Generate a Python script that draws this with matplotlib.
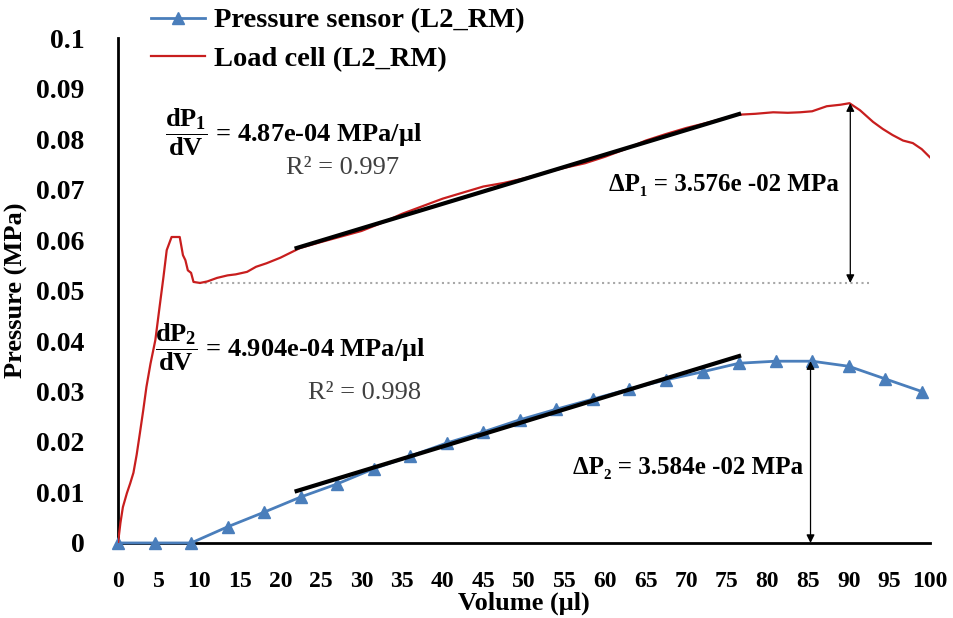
import numpy as np
import matplotlib.pyplot as plt

plt.rcParams['font.family'] = ['Liberation Serif', 'DejaVu Serif']
plt.rcParams['font.weight'] = 'bold'
plt.rcParams['mathtext.fontset'] = 'custom'
plt.rcParams['mathtext.rm'] = 'Liberation Serif:bold'
plt.rcParams['mathtext.bf'] = 'Liberation Serif:bold'
plt.rcParams['mathtext.it'] = 'Liberation Serif:bold'

# pressure sensor (blue, markers)
vol_sensor = [0, 4.5, 9, 13.5, 18, 22.5, 27, 31.5, 36, 40.5, 45, 49.5, 54, 58.5,
              63, 67.5, 72, 76.5, 81, 85.5, 90, 94.5, 99]
p_sensor = [0, 0, 0, 0.0032, 0.0061, 0.0091, 0.0117, 0.0147, 0.0172, 0.0198, 0.0220,
            0.0244, 0.0265, 0.0285, 0.0305, 0.0323, 0.0339, 0.0356, 0.0360, 0.0360,
            0.0350, 0.0325, 0.0300]

# load cell (red)
vol_load = [0, 0.3, 0.6, 1.1, 1.5, 1.9, 2.3, 2.7, 3.1, 3.5, 4.0, 4.6, 5.1, 5.6, 6.0,
            6.6, 7.6, 8.0, 8.3, 8.6, 9.0, 9.3, 10.1, 11.0, 12.2, 13.5, 14.5, 15.9,
            17.0, 18.3, 20.0, 22.4, 25, 27.5, 30, 32.5, 35, 37.5, 40, 42.5, 45, 47.5,
            50, 52.5, 55, 57.5, 60, 62.5, 65, 67.5, 70, 73, 76.2, 78.5, 80.7, 82.5,
            84, 85.5, 87.3, 89, 90.1, 91.4, 93, 94.2, 95.4, 96.7, 97.9, 99, 100]
p_load = [0, 0.0040, 0.0071, 0.0099, 0.0118, 0.0139, 0.0175, 0.0218, 0.0262, 0.0309,
          0.0355, 0.0402, 0.0465, 0.0527, 0.0580, 0.0606, 0.0606, 0.0570, 0.0560,
          0.0540, 0.0535, 0.0517, 0.0515, 0.0518, 0.0525, 0.0530, 0.0532, 0.0537,
          0.0547, 0.0554, 0.0565, 0.0584, 0.0596, 0.0607, 0.0618, 0.0634, 0.0652,
          0.0667, 0.0682, 0.0694, 0.0706, 0.0713, 0.0722, 0.0733, 0.0743, 0.0752,
          0.0765, 0.0780, 0.0797, 0.0810, 0.0822, 0.0834, 0.0848, 0.0850, 0.0853,
          0.0852, 0.0853, 0.0855, 0.0865, 0.0868, 0.0871, 0.0857, 0.0834, 0.0820,
          0.0808, 0.0797, 0.0792, 0.0780, 0.0764]

# linear fits
fit_x = [22, 76.5]
slope1, icpt1 = 4.87e-4, 0.0477
slope2, icpt2 = 4.904e-4, -0.0005

base1 = 0.0515
peak1_x, peak1 = 90.2, 0.0871
peak2_x, peak2 = 85.3, 0.0360

fig = plt.figure(figsize=(9.54, 6.18), dpi=100)
ax = fig.add_axes([0.1237, 0.1214, 0.851, 0.817])

ax.plot(vol_sensor, p_sensor, color='#4a7ebb', lw=2, marker='^', ms=8,
        label='Pressure sensor (L2_RM)', clip_on=False, zorder=3)
ax.plot(vol_load, p_load, color='#c81e1e', lw=1.6, label='Load cell (L2_RM)', zorder=3)

fx = np.array(fit_x)
ax.plot(fx, slope1 * fx + icpt1, color='black', lw=3, zorder=4)
ax.plot(fx, slope2 * fx + icpt2, color='black', lw=3, zorder=4)

ax.plot([10, 92.5], [base1, base1], color='#a8a8a8', lw=1.5, ls=':', zorder=2)

arrow = dict(arrowstyle='<|-|>', lw=0.9, color='black', shrinkA=0, shrinkB=0,
             mutation_scale=12)
ax.annotate('', xy=(peak1_x, peak1), xytext=(peak1_x, base1), arrowprops=arrow)
ax.annotate('', xy=(peak2_x, peak2), xytext=(peak2_x, 0), arrowprops=arrow)

ax.text(5.8, 0.0814, r'$\dfrac{dP_{1}}{dV}$ = 4.87e-04 MPa/μl', fontsize=19,
        ha='left', va='center')
ax.text(27.6, 0.0743, 'R² = 0.997', fontsize=19, fontweight='normal',
        color='#404040', ha='center', va='center')
ax.text(4.6, 0.0388, r'$\dfrac{dP_{2}}{dV}$ = 4.904e-04 MPa/μl', fontsize=19,
        ha='left', va='center')
ax.text(30.4, 0.0297, 'R² = 0.998', fontsize=19, fontweight='normal',
        color='#404040', ha='center', va='center')
ax.text(74.6, 0.0709, 'ΔP₁ = 3.576e -02 MPa', fontsize=18, ha='center', va='center')
ax.text(70.2, 0.0150, 'ΔP₂ = 3.584e -02 MPa', fontsize=18, ha='center', va='center')

ax.set_xlim(0, 100)
ax.set_ylim(0, 0.1)
ax.set_xticks(np.arange(0, 101, 5))
ax.set_yticks(np.arange(0, 0.101, 0.01))
ax.set_yticklabels(['0', '0.01', '0.02', '0.03', '0.04', '0.05', '0.06', '0.07',
                    '0.08', '0.09', '0.1'])
ax.tick_params(axis='y', length=0, pad=24, labelsize=20)
ax.tick_params(axis='x', length=0, pad=20, labelsize=17)

for s in ['top', 'right']:
    ax.spines[s].set_visible(False)
for s in ['left', 'bottom']:
    ax.spines[s].set_linewidth(2)

ax.set_xlabel('Volume (μl)', fontsize=19, fontweight='bold', labelpad=0)
ax.set_ylabel('Pressure (MPa)', fontsize=19, fontweight='bold', labelpad=6)

fig.legend(loc='upper left', bbox_to_anchor=(0.157, 0.99), frameon=False,
           fontsize=20.5, handlelength=1.9, handletextpad=0.3, labelspacing=0.45,
           borderpad=0.05, borderaxespad=0)

fig.savefig('out.png', dpi=100)
